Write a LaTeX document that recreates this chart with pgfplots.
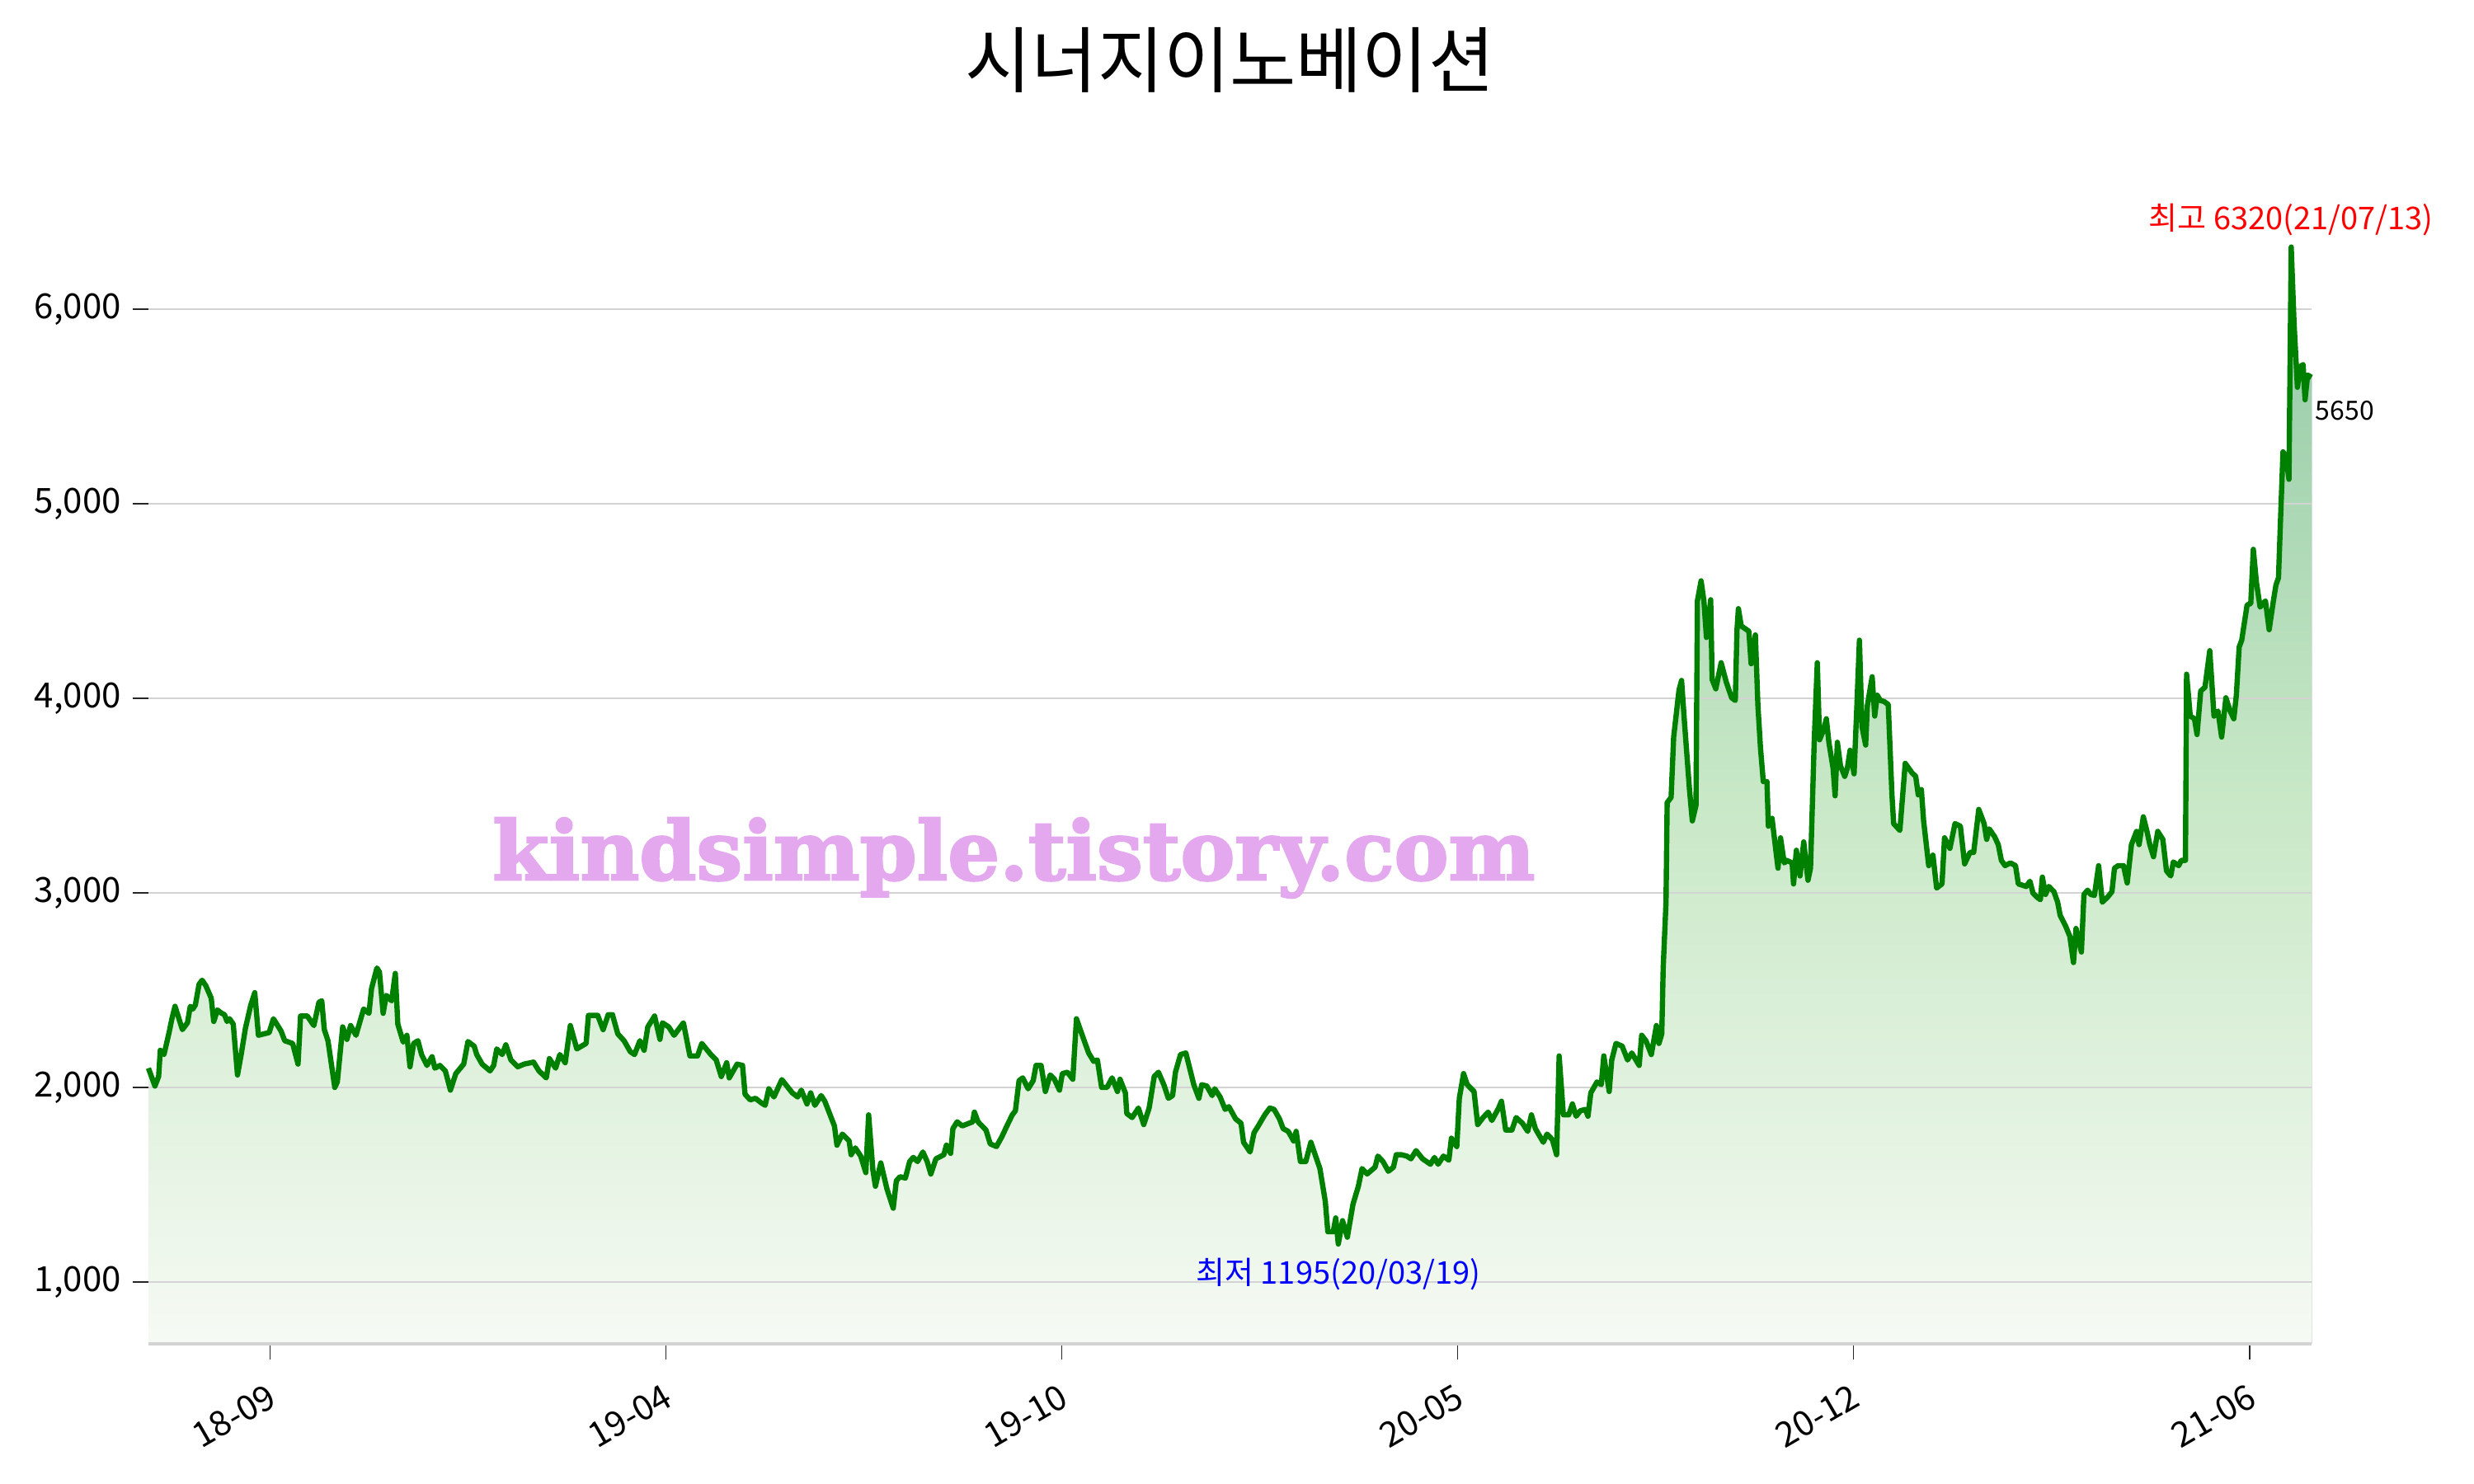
\documentclass[border=0pt]{standalone}
\usepackage{fontspec}
\setmainfont{Noto Sans CJK KR}
\newfontfamily\wmfont{DejaVu Serif Bold}[FakeBold=2.5]
\usepackage{pgfplots}
\pgfplotsset{compat=1.18}
\usepackage{pgfplotstable}
\usepgfplotslibrary{fillbetween}

\definecolor{linegreen}{RGB}{0,128,0}
\definecolor{gridgray}{RGB}{211,211,211}
\definecolor{filltop}{RGB}{145,200,165}
\definecolor{fillmid}{RGB}{200,232,198}
\definecolor{fillbot}{RGB}{246,250,244}
\definecolor{wmviolet}{RGB}{228,168,238}

% trading day index, closing price
\pgfplotstableread{
i v
0 2099
2.3 2007
3.6 2056
4.2 2191
5.5 2169
7.3 2282
8.3 2353
9.4 2417
10.5 2367
12.0 2297
13.8 2332
14.8 2417
15.7 2403
16.6 2424
17.9 2530
19.0 2551
20.3 2523
22.2 2459
23.1 2339
24.4 2398
25.9 2381
26.9 2374
27.8 2339
28.7 2353
30.0 2325
31.5 2064
32.8 2169
34.3 2304
36.2 2424
37.6 2487
38.9 2268
42.7 2282
44.2 2353
46.9 2290
48.2 2240
51.0 2226
52.9 2120
53.8 2367
56.2 2367
58.5 2318
60.3 2438
61.3 2445
62.2 2297
63.5 2240
65.9 2000
66.8 2028
68.7 2311
70.2 2247
71.5 2318
73.4 2268
76.1 2403
78.0 2381
78.9 2508
80.8 2614
81.7 2593
83.0 2381
84.1 2473
86.0 2445
87.3 2586
88.2 2325
90.1 2233
91.4 2268
92.5 2106
93.8 2226
95.3 2240
96.6 2169
98.5 2113
100.3 2158
101.3 2099
103.1 2113
105.0 2085
106.8 1986
108.7 2071
111.5 2120
113.0 2236
115.2 2212
116.1 2169
118.0 2120
120.8 2085
122.1 2113
123.2 2198
125.1 2169
126.4 2219
128.2 2141
130.6 2106
132.9 2120
136.2 2130
138.1 2085
140.7 2049
141.8 2148
144.0 2099
145.5 2169
147.4 2127
149.2 2318
151.5 2198
154.8 2226
155.6 2370
158.9 2370
160.8 2297
162.6 2374
164.1 2374
166.0 2275
168.2 2240
170.4 2184
171.9 2169
173.8 2240
175.3 2191
176.6 2311
179.0 2367
180.9 2247
181.8 2332
184.0 2311
185.9 2268
189.2 2332
191.5 2162
194.2 2162
195.7 2226
198.9 2169
200.8 2141
202.6 2056
204.5 2127
205.4 2049
208.2 2120
210.1 2113
211.0 1965
212.8 1936
214.7 1944
216.6 1922
218.1 1908
219.4 1993
221.2 1951
224.0 2040
227.7 1972
229.6 1951
230.9 1986
232.9 1915
234.2 1972
235.7 1908
237.9 1958
239.2 1929
240.7 1873
242.6 1802
243.5 1703
245.4 1760
247.8 1725
248.5 1654
250.0 1689
251.9 1647
253.7 1562
254.7 1859
256.2 1576
257.1 1492
259.0 1612
261.2 1477
263.4 1379
264.5 1520
265.8 1541
267.7 1534
269.2 1619
270.5 1640
272.0 1619
273.9 1668
275.4 1619
276.7 1555
278.5 1633
281.3 1654
282.2 1703
283.7 1661
284.5 1788
286.0 1823
287.8 1802
291.5 1823
292.1 1873
293.4 1823
296.2 1781
297.7 1710
299.9 1696
301.8 1746
303.6 1802
305.5 1859
306.6 1880
307.9 2035
309.2 2049
311.1 1993
312.9 2035
313.9 2113
315.7 2113
317.2 1979
318.9 2064
320.4 2042
322.2 1986
323.2 2071
325.0 2078
326.9 2042
328.2 2353
330.6 2254
332.5 2177
334.3 2134
335.6 2141
337.1 2000
339.0 2000
340.8 2049
342.7 1979
343.6 2042
345.5 1972
346.0 1866
347.9 1845
350.1 1894
352.0 1809
353.9 1894
355.7 2056
357.2 2078
359.1 2014
360.7 1944
362.2 1958
363.2 2078
365.0 2169
366.9 2177
369.7 2014
371.5 1944
372.5 2014
374.3 2007
376.2 1958
377.1 1993
379.0 1951
380.8 1887
382.1 1901
384.5 1838
386.4 1816
387.3 1718
389.6 1668
391.0 1767
392.5 1802
394.8 1859
396.6 1894
398.1 1887
400.0 1838
401.3 1788
403.1 1774
405.0 1725
405.9 1774
407.4 1619
409.3 1619
411.1 1718
414.3 1583
416.2 1414
417.1 1258
419.0 1258
419.9 1329
420.8 1195
422.3 1315
424.0 1230
426.0 1400
427.9 1492
429.2 1583
431.0 1555
433.8 1590
434.8 1647
436.6 1619
438.5 1569
440.3 1590
441.3 1654
443.1 1654
445.0 1647
446.5 1633
448.3 1675
450.6 1633
453.4 1605
454.8 1640
456.1 1605
458.0 1647
459.9 1626
460.8 1739
462.7 1696
463.6 1944
465.1 2071
466.4 2014
468.8 1979
470.1 1809
472.0 1845
473.8 1873
475.1 1830
477.5 1894
478.5 1929
480.0 1781
482.2 1781
483.7 1845
485.9 1816
487.8 1774
489.1 1859
490.5 1788
493.3 1718
494.6 1760
496.5 1732
498.0 1654
498.9 2162
500.4 1859
502.3 1859
503.6 1915
504.9 1852
506.4 1880
508.2 1887
509.1 1852
510.1 1972
512.3 2028
513.8 2014
514.7 2162
516.6 1979
517.5 2141
519.0 2226
521.2 2212
523.1 2141
524.6 2177
527.2 2113
528.1 2268
529.6 2240
531.5 2169
533.3 2318
534.2 2226
535.2 2275
535.7 2615
536.7 2952
537.1 3464
538.5 3491
539.4 3801
541.3 4043
542.2 4092
543.2 3882
545.0 3531
546.0 3370
547.3 3450
547.8 4501
549.1 4604
550.1 4501
551.0 4313
552.5 4507
553.0 4097
554.3 4049
556.2 4183
558.0 4084
559.9 4003
561.2 3989
561.8 4353
562.3 4461
563.3 4372
566.0 4345
566.8 4178
568.3 4326
569.2 3962
570.1 3747
571.1 3572
572.4 3572
572.9 3343
574.2 3383
575.3 3248
576.3 3127
577.2 3283
578.5 3154
579.4 3167
581.3 3154
581.8 3046
582.8 3219
584.1 3087
585.4 3262
586.9 3065
587.8 3127
589.1 3774
590.2 4183
591.0 3787
592.5 3841
593.4 3895
594.3 3774
595.8 3639
596.5 3499
597.3 3774
598.4 3653
599.9 3599
600.8 3639
601.8 3733
603.2 3612
604.2 3962
605.1 4299
606.0 3855
607.3 3760
607.9 3962
609.6 4111
610.5 3909
611.4 4016
612.5 3989
613.8 3984
615.3 3968
616.6 3504
617.2 3356
619.4 3321
621.3 3666
623.7 3617
625.0 3599
625.9 3504
627.0 3531
627.8 3370
629.6 3140
631.1 3194
632.4 3025
634.3 3046
635.2 3283
637.1 3229
638.9 3356
640.8 3343
642.3 3149
644.2 3208
645.5 3208
647.3 3429
649.2 3356
650.1 3275
651.0 3329
652.9 3289
654.2 3248
655.3 3167
656.6 3140
658.5 3154
660.3 3140
661.3 3046
664.1 3033
665.4 3060
666.5 2998
667.8 2979
669.1 2965
669.8 3081
670.9 2992
672.1 3033
673.9 3006
675.2 2952
676.1 2884
678.0 2830
679.5 2777
680.8 2642
681.7 2817
683.6 2696
684.5 2992
685.8 3014
686.9 2992
688.2 2987
689.7 3140
691.0 2952
692.9 2979
694.4 3006
695.3 3127
696.6 3140
698.5 3140
699.8 3051
701.3 3248
703.1 3316
704.0 3248
705.5 3391
706.8 3316
707.8 3248
709.1 3186
710.6 3316
712.4 3275
713.7 3113
715.2 3087
716.1 3159
718.0 3140
718.9 3167
720.4 3167
720.8 4124
722.1 3909
723.6 3895
724.5 3814
725.8 4038
727.3 4057
729.0 4245
730.5 3909
731.9 3935
733.2 3801
734.7 4003
736.2 3935
737.5 3895
738.4 4016
739.4 4264
740.3 4299
742.2 4480
743.5 4488
744.4 4766
745.5 4596
746.8 4469
748.7 4501
750.0 4353
751.5 4501
752.4 4582
753.3 4620
754.1 4950
754.9 5267
756.0 5239
757.0 5126
757.8 6320
758.8 5931
760.0 5599
761.0 5705
762.0 5716
762.7 5535
763.6 5662
765 5650
}\price

\begin{document}
\begin{tikzpicture}
\begin{axis}[
    name=ax,
    scale only axis,
    width=655.75pt, height=355pt,
    xmin=0, xmax=765, ymin=682, ymax=6700,
    clip=false,
    set layers,
    axis x line*=bottom, axis y line*=left,
    x axis line style={draw=gridgray, line width=1pt},
    y axis line style={draw=none},
    xtick={43,183,323,463,603,743},
    xticklabels={18-09,19-04,19-10,20-05,20-12,21-06},
    ytick={1000,2000,3000,4000,5000,6000},
    tick align=outside,
    major tick length=4.75pt,
    tick style={draw=black!85, line width=0.45pt},
    ymajorgrids,
    grid style={draw=gridgray, line width=0.5pt},
    yticklabel style={font=\fontsize{10.5}{12}\selectfont},
    xticklabel style={font=\fontsize{10.5}{12}\selectfont, rotate=30, anchor=north east, xshift=-1pt, yshift=-2pt},
    /pgf/number format/assume math mode=true,
    /pgf/number format/1000 sep={,},
]
\addplot[name path=price, draw=linegreen, line width=1.6pt, line join=round] table[x=i, y=v] {\price};
\addplot[draw=none, name path=base, forget plot] coordinates {(0,682) (765,682)};
\addplot[top color=filltop, bottom color=fillbot, middle color=fillmid, draw=none]
    fill between[of=price and base, on layer=axis background];

\node[text=wmviolet] at (axis cs:306,3180)
    {\resizebox{316pt}{!}{\wmfont kindsimple.tistory.com}};
\node[text=red, font=\fontsize{9.5}{11}\selectfont] at (axis cs:757.8,6462) {최고 6320(21/07/13)};
\node[text=blue, font=\fontsize{9.5}{11}\selectfont] at (axis cs:420.8,1040) {최저 1195(20/03/19)};
\node[anchor=west, inner sep=1pt, font=\fontsize{8}{10}\selectfont] at (axis cs:765,5480) {5650};
\end{axis}
\node[font=\fontsize{21.8}{26}\selectfont] at ([yshift=34.25pt]ax.north) {시너지이노베이션};
\pgfresetboundingbox
\path[use as bounding box] ([xshift=-45pt,yshift=-42.5pt]ax.south west)
    rectangle ([xshift=49.25pt,yshift=52.5pt]ax.north east);
\end{tikzpicture}
\end{document}
